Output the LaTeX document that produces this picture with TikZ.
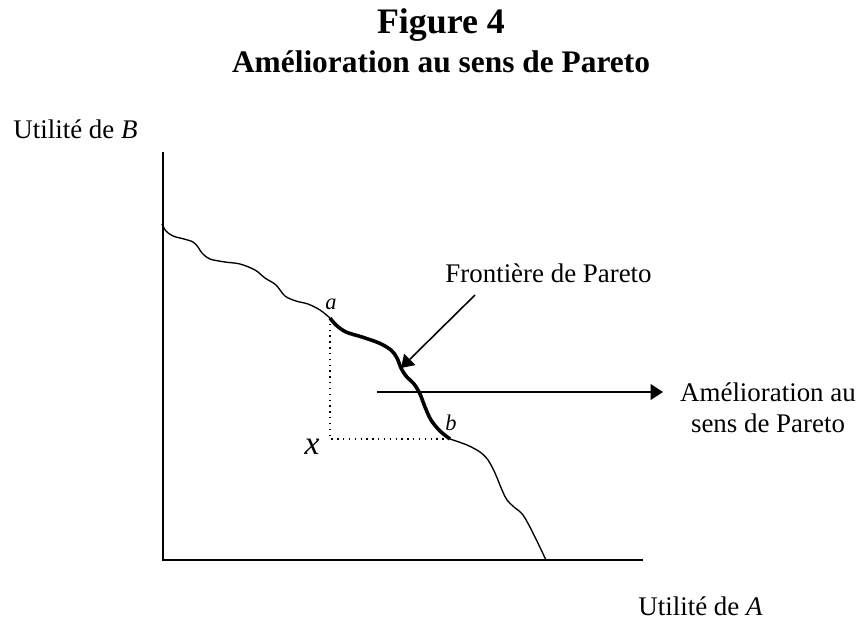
\documentclass[tikz,border=0pt]{standalone}
\usepackage{fontspec}
\setmainfont{Liberation Serif}
\usepackage{tikz}
\usetikzlibrary{arrows.meta,calc,positioning}
\tikzstyle{axe}      =[line width=0.75pt]
\tikzstyle{mince}    =[line width=0.6pt]
\tikzstyle{epais}    =[line width=1.6pt]
\tikzstyle{fleche}   =[-{Triangle[length=5.5pt,width=7pt]}, line width=0.7pt]
\tikzstyle{pointille}=[dotted, line width=0.6pt]
\tikzstyle{texte}    =[inner sep=0pt, anchor=base west,
                       font=\fontsize{12}{14}\selectfont]
\tikzstyle{point}    =[inner sep=0pt, font=\fontsize{10}{11}\selectfont\itshape]

\begin{document}
\begin{tikzpicture}[x=0.446pt,y=-0.446pt]
    \useasboundingbox (0,0) rectangle (860,620);

    % titre
    \node (titre) [inner sep=0pt, anchor=base, font=\fontsize{16}{19}\selectfont\bfseries]
        at (441,33) {Figure 4};
    \node (soustitre) [inner sep=0pt, anchor=base, font=\fontsize{14}{17}\selectfont\bfseries]
        at (441,72) {Amélioration au sens de Pareto};

    % axes
    \coordinate (O) at (163,560);
    \coordinate (haut) at (163,152);
    \coordinate (droite) at (643,560);
    \draw [axe] (haut) -- (O) -- (droite);
    \node (utilB) [texte] at (13,138) {Utilité de \textit{B}};
    \node (utilA) [texte] at (638,615) {Utilité de \textit{A}};

    % frontiere
    \coordinate (a) at (330,318);
    \coordinate (b) at (450,439);
    \draw [mince] plot[smooth,tension=0.55] coordinates {(162,224) (166,231) (173,236)
        (184,239) (193,242) (198,247) (202,253) (210,259) (225,262) (240,264)
        (255,270) (265,278) (276,285) (285,296) (296,301) (308,304) (320,310) (a)};
    \draw [epais] plot[smooth,tension=0.55] coordinates {(a) (336,325) (346,332)
        (362,337) (379,343) (391,350) (397,358) (401,368) (406,376) (414,384)
        (420,394) (425,407) (431,420) (440,431) (b)};
    \draw [mince] plot[smooth,tension=0.55] coordinates {(b) (467,445) (480,452)
        (488,460) (495,473) (502,490) (507,500) (514,507) (523,515) (533,533) (546,560)};

    % x
    \draw [pointille] (a) |- (b);
    \node (x) [inner sep=0pt, font=\fontsize{15}{17}\selectfont\itshape] at (312,447) {x};
    \node (la) [point] at (331,304) {a};
    \node (lb) [point] at (451,423) {b};

    % fleches
    \node (front) [texte] at (445,282) {Frontière de Pareto};
    \coordinate (f1) at (475,295);
    \coordinate (f2) at (401,368);
    \draw [fleche] (f1) -- (f2);

    \node (amel) [inner sep=0pt, align=center, anchor=north,
                  font=\fontsize{12}{14}\selectfont] at (768,382)
        {Amélioration au\\sens de Pareto};
    \coordinate (h1) at (377,392);
    \coordinate (h2) at (663,392);
    \draw [fleche] (h1) -- (h2);

\end{tikzpicture}
\end{document}
